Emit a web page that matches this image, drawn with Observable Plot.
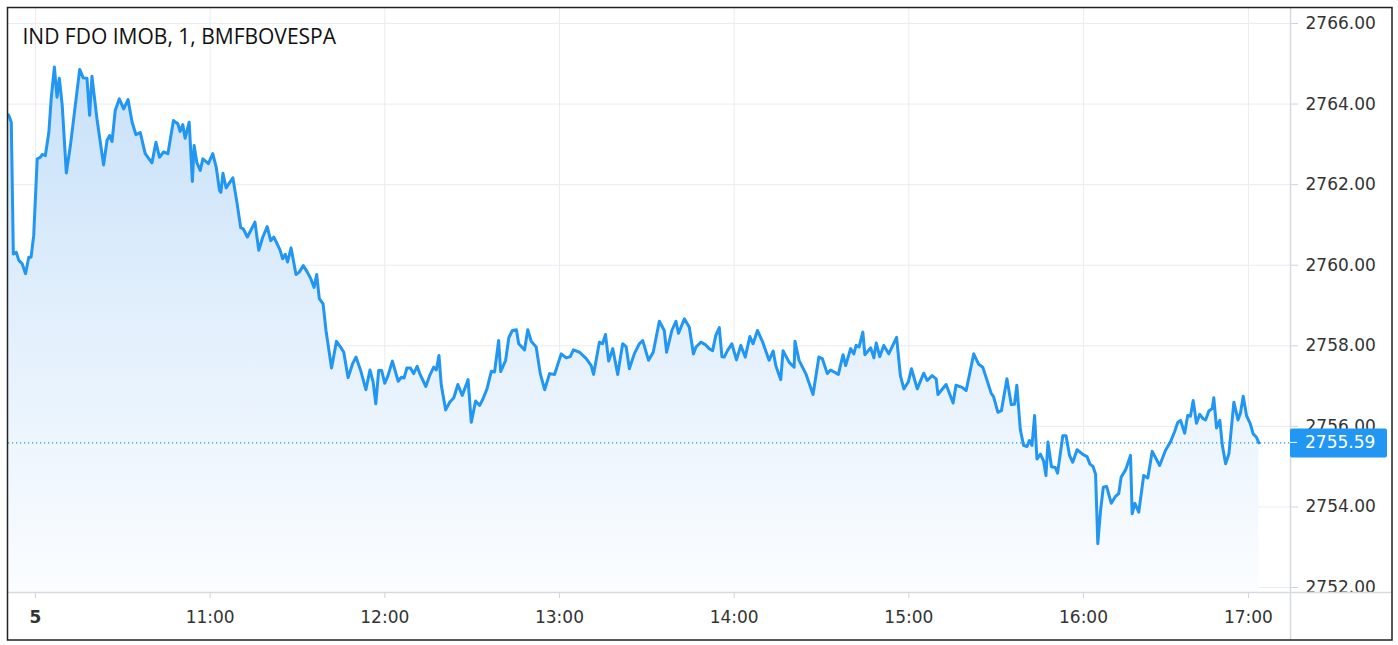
<!DOCTYPE html>
<html>
<head>
<meta charset="utf-8">
<script src="https://cdn.jsdelivr.net/npm/d3@7"></script>
<script src="https://cdn.jsdelivr.net/npm/@observablehq/plot@0.6"></script>
<style>
  html, body { margin: 0; padding: 0; background: #fff; }
  #chart { position: relative; width: 1398px; height: 645px; }
</style>
</head>
<body>
<div id="chart"></div>
<script>
// Title
const title = "IND FDO IMOB, 1, BMFBOVESPA";

// Minutes after 10:00 (day 5) of each sample
const minutes = [
  -9.2,-8.3,-7.6,-6.6,-5.7,-4.6,-3.4,-2.3,-1.5,-0.6,0.6,1.7,2.3,3.4,4.6,5.4,6.5,7.4,8.2,9.2,
  10.6,12.0,13.4,15.2,16.4,17.7,18.6,19.4,21.2,23.4,24.6,25.5,26.3,27.4,28.8,30.3,31.8,33.2,34.5,36.0,
  37.7,40.0,41.4,42.6,44.0,45.5,47.4,48.9,49.7,50.6,51.4,52.8,53.9,54.5,55.4,56.6,57.5,59.4,60.9,62.1,
  63.2,63.7,64.4,65.5,67.8,69.2,70.5,71.4,72.8,75.4,76.7,78.1,79.6,80.8,81.9,84.0,84.9,85.8,86.6,87.8,
  89.5,90.6,92.0,93.4,94.6,95.7,96.6,97.5,98.8,99.8,101.7,103.4,104.8,105.9,107.4,108.9,110.1,111.7,113.5,114.9,
  116.0,116.9,117.9,118.9,120.0,121.1,122.6,124.6,125.7,126.6,127.6,128.8,129.9,131.1,132.0,134.1,135.4,136.8,137.7,138.6,
  139.4,140.9,142.3,143.7,145.1,146.6,148.6,149.7,151.2,152.6,153.7,155.1,156.6,157.7,159.1,159.8,161.5,162.6,163.8,165.2,
  166.0,168.0,169.1,170.3,172.0,173.4,174.9,176.6,178.3,180.6,182.3,183.7,184.8,186.9,189.2,190.9,191.7,193.7,194.8,195.8,
  196.9,198.3,200.0,201.7,202.9,204.0,205.7,207.4,208.6,210.6,212.2,214.3,216.0,216.8,218.6,220.0,220.9,222.9,224.6,226.0,
  226.9,228.6,230.1,231.4,232.6,233.7,234.9,235.8,236.6,237.7,239.2,240.8,242.3,243.8,245.4,246.5,248.0,249.7,252.0,253.4,
  254.3,256.0,256.8,258.9,260.6,260.9,262.3,264.6,267.1,269.1,270.3,272.0,273.1,275.8,277.4,278.3,280.0,281.1,281.9,282.9,
  284.2,284.9,286.9,288.0,288.8,290.0,291.4,293.1,295.8,297.1,298.3,299.8,300.9,302.9,305.1,306.3,308.0,309.4,310.0,312.8,
  315.2,316.2,318.3,319.7,322.3,324.0,325.4,328.3,329.1,330.6,331.8,333.7,335.2,336.3,337.1,338.3,339.4,340.6,341.4,342.3,
  343.2,344.0,345.2,346.3,347.1,347.8,349.0,350.3,351.1,352.9,354.0,355.2,356.3,357.8,359.9,361.3,362.3,363.5,364.4,365.2,
  366.2,367.2,368.4,370.1,371.6,372.8,373.7,375.3,377.1,377.7,378.7,380.1,381.9,383.4,385.0,387.7,389.8,391.6,393.1,394.3,
  395.3,396.8,397.9,398.9,399.9,401.1,402.3,403.5,404.4,405.6,406.8,407.4,408.4,409.6,410.5,411.7,412.9,414.7,416.2,417.1,
  418.1,419.3,420.7,421.7,422.9,423.8
];

// Index value
const values = [
  2763.73,2763.55,2760.28,2760.32,2760.12,2760.04,2759.79,2760.20,2760.20,2760.74,2762.64,2762.68,2762.75,2762.72,2763.30,2764.13,2764.92,2764.17,2764.64,2763.96,
  2762.29,2762.97,2763.80,2764.86,2764.65,2764.64,2763.72,2764.69,2763.59,2762.49,2763.10,2763.22,2763.07,2763.84,2764.13,2763.88,2764.11,2763.55,2763.24,2763.29,
  2762.77,2762.54,2763.05,2762.68,2762.81,2762.77,2763.59,2763.51,2763.32,2763.49,2763.15,2763.55,2762.08,2762.97,2762.56,2762.35,2762.64,2762.52,2762.77,2762.43,
  2761.86,2761.81,2762.28,2761.92,2762.17,2761.56,2760.93,2760.90,2760.70,2761.07,2760.37,2760.70,2760.96,2760.61,2760.70,2760.38,2760.16,2760.27,2760.08,2760.43,
  2759.77,2759.83,2759.99,2759.83,2759.66,2759.45,2759.77,2759.17,2759.04,2758.38,2757.45,2758.11,2757.97,2757.84,2757.21,2757.55,2757.72,2757.39,2756.91,2757.40,
  2757.10,2756.56,2757.39,2757.39,2757.07,2757.26,2757.62,2757.12,2757.22,2757.20,2757.45,2757.45,2757.31,2757.49,2757.31,2756.99,2757.26,2757.47,2757.40,2757.76,
  2757.02,2756.41,2756.60,2756.71,2757.04,2756.77,2757.16,2756.10,2756.63,2756.52,2756.68,2756.93,2757.37,2757.35,2758.13,2757.36,2757.64,2758.20,2758.38,2758.40,
  2758.05,2757.90,2758.40,2758.11,2757.97,2757.31,2756.91,2757.31,2757.29,2757.80,2757.70,2757.73,2757.90,2757.84,2757.68,2757.51,2757.29,2758.09,2758.05,2758.28,
  2757.62,2757.93,2757.29,2758.05,2757.98,2757.43,2757.80,2758.05,2758.13,2757.64,2757.84,2758.61,2758.38,2757.84,2758.38,2758.61,2758.31,2758.67,2758.46,2757.80,
  2757.97,2758.09,2758.03,2757.93,2757.88,2758.26,2758.45,2757.73,2757.72,2757.88,2758.05,2757.65,2758.01,2757.72,2758.23,2758.05,2758.38,2758.11,2757.64,2757.87,
  2757.51,2757.16,2757.88,2757.59,2757.47,2758.11,2757.64,2757.31,2756.79,2757.72,2757.68,2757.31,2757.40,2757.29,2757.78,2757.51,2757.93,2757.80,2758.01,2757.97,
  2758.34,2757.78,2757.95,2757.70,2758.07,2757.73,2758.01,2757.80,2758.21,2757.26,2756.93,2757.10,2757.43,2756.93,2757.32,2757.14,2757.26,2757.18,2756.79,2757.04,
  2756.58,2757.02,2756.97,2756.89,2757.80,2757.54,2757.47,2756.82,2756.74,2756.35,2756.39,2757.18,2756.54,2756.55,2757.02,2755.92,2755.53,2755.50,2755.65,2755.53,
  2756.27,2755.19,2755.31,2755.14,2754.78,2755.61,2755.00,2754.98,2754.84,2755.77,2755.77,2755.28,2755.11,2755.42,2755.30,2755.25,2755.07,2755.00,2754.81,2753.09,
  2753.91,2754.49,2754.51,2754.09,2754.26,2754.33,2754.74,2754.92,2755.28,2753.83,2754.09,2753.87,2754.78,2754.72,2755.38,2755.03,2755.40,2755.61,2755.86,2756.10,
  2756.15,2755.83,2756.27,2756.25,2756.64,2756.08,2756.30,2756.19,2756.16,2756.38,2756.44,2756.71,2755.96,2756.15,2755.53,2755.07,2755.32,2756.60,2756.16,2756.33,
  2756.75,2756.27,2756.06,2755.82,2755.73,2755.59
];

// Axis ticks
const timeTicks = [0, 60, 120, 180, 240, 300, 360, 420];
const timeLabels = ["5", "11:00", "12:00", "13:00", "14:00", "15:00", "16:00", "17:00"];
const priceTicks = [2752, 2754, 2756, 2758, 2760, 2762, 2764, 2766];
const lastPrice = 2755.59;

const data = minutes.map((m, i) => ({m, v: values[i]}));
const yMin = 2751.877, yMax = 2766.372;
const blue = "#2196f3";
const axisFont = "DejaVu Sans, sans-serif";

const defs = () => {
  const ns = "http://www.w3.org/2000/svg";
  const d = document.createElementNS(ns, "defs");
  d.innerHTML = `<linearGradient id="areaGrad" gradientUnits="userSpaceOnUse" x1="0" y1="60" x2="0" y2="592">
      <stop offset="0" stop-color="#c6e0f9"/>
      <stop offset="0.45" stop-color="#e0eefc"/>
      <stop offset="1" stop-color="#fbfdff"/>
    </linearGradient>`;
  return d;
};

const plot = Plot.plot({
  width: 1398,
  height: 645,
  marginLeft: 8,
  marginRight: 108,
  marginTop: 8,
  marginBottom: 53,
  style: {background: "#fff", overflow: "visible"},
  x: {type: "linear", domain: [-9.26, 360, 435.3], range: [8, 1083, 1290]},
  y: {domain: [yMin, yMax]},
  marks: [
    defs,
    Plot.gridX(timeTicks, {stroke: "#e9ecf1", strokeOpacity: 1}),
    Plot.gridY(priceTicks, {stroke: "#e9ecf1", strokeOpacity: 1}),
    Plot.areaY(data, {x: "m", y1: yMin, y2: "v", fill: "url(#areaGrad)"}),
    Plot.ruleY([lastPrice], {stroke: blue, strokeDasharray: "1.2,2.8", strokeWidth: 1.2}),
    Plot.lineY(data, {x: "m", y: "v", stroke: blue, strokeWidth: 3, strokeLinejoin: "round"}),
    Plot.axisY(priceTicks, {anchor: "right", tickSize: 7, tickPadding: 8, stroke: "#d0d3d9",
      tickFormat: d => d.toFixed(2), fontSize: 17, fontFamily: axisFont, fill: "#333", label: null}),
    Plot.axisX(timeTicks.slice(1), {anchor: "bottom", tickSize: 6, tickPadding: 12, stroke: "#d0d3d9",
      tickFormat: d => timeLabels[timeTicks.indexOf(d)], fontSize: 17, fontFamily: axisFont, fill: "#333", label: null}),
    Plot.axisX(timeTicks.slice(0, 1), {anchor: "bottom", tickSize: 6, tickPadding: 12, stroke: "#d0d3d9",
      tickFormat: d => timeLabels[timeTicks.indexOf(d)], fontSize: 17, fontWeight: "bold", fontFamily: axisFont, fill: "#333", label: null}),
    Plot.text([title], {frameAnchor: "top-left", dx: 14, dy: 29, textAnchor: "start", lineAnchor: "middle",
      fontSize: 21, fontFamily: "Open Sans, sans-serif", fill: "#111"})
  ]
});

// Decorations: pane separators, price badge, outer border
const svg = d3.select(plot);
const ys = plot.scale("y");
const yLast = ys.apply(lastPrice);
// cover lower axis area so the bottom price label is cut like the reference
svg.append("rect").attr("x", 1291).attr("y", 593).attr("width", 101).attr("height", 47).attr("fill", "#fff");
svg.append("line").attr("x1", 8).attr("x2", 1392).attr("y1", 592.5).attr("y2", 592.5).attr("stroke", "#d6d9de").attr("stroke-width", 1.5);
svg.append("line").attr("x1", 1290.5).attr("x2", 1290.5).attr("y1", 7).attr("y2", 640).attr("stroke", "#d6d9de").attr("stroke-width", 1.5);
svg.append("rect").attr("x", 1290).attr("y", yLast - 14).attr("width", 97).attr("height", 29).attr("rx", 2).attr("fill", blue);
svg.append("line").attr("x1", 1290).attr("x2", 1297).attr("y1", yLast).attr("y2", yLast).attr("stroke", "#fff").attr("stroke-width", 1);
svg.append("text").attr("x", 1305).attr("y", yLast).attr("dy", "0.35em").attr("fill", "#fff")
  .attr("text-anchor", "start").attr("font-family", axisFont).attr("font-size", 17).text(lastPrice.toFixed(2));
svg.append("rect").attr("x", 7.5).attr("y", 7.5).attr("width", 1384.5).attr("height", 632.5)
  .attr("fill", "none").attr("stroke", "#222").attr("stroke-width", 1.5);

document.getElementById("chart").appendChild(plot);
</script>
</body>
</html>
